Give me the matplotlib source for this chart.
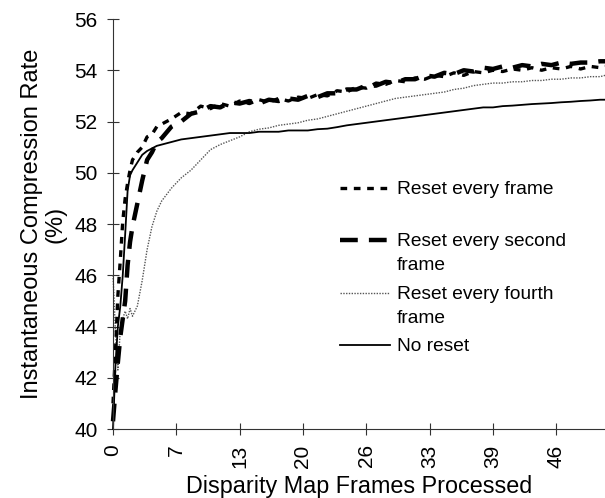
import matplotlib
matplotlib.use("Agg")
import matplotlib.pyplot as plt
from matplotlib.lines import Line2D

plt.rcParams["font.family"] = ["Liberation Sans", "DejaVu Sans"]

# frames processed (finer sampling at the start where the curves climb)
frames = [0, 0.25, 0.5, 0.75, 1, 1.25, 1.5, 1.75, 2, 2.5, 3, 3.5, 4, 4.5, 5,
          6, 7, 8, 9, 10, 11, 12, 13, 14, 15, 16, 17, 18, 19, 20,
          21, 22, 23, 24, 25, 26, 27, 28, 29, 30, 31, 32, 33, 34, 35,
          36, 37, 38, 39, 40, 41, 42, 43, 44, 45, 46, 47, 48, 49, 50, 50.5]

every_frame = [41.0, 43.0, 45.2, 46.6, 48.1, 49.0, 49.6, 50.1, 50.5, 50.8, 51.0, 51.4, 51.5, 51.8, 51.9,
               52.1, 52.35, 52.3, 52.6, 52.5, 52.7, 52.6, 52.8, 52.7, 52.85, 52.75, 52.9, 52.8, 52.95, 52.9,
               53.05, 53.0, 53.2, 53.15, 53.35, 53.3, 53.5, 53.45, 53.6, 53.55, 53.7, 53.65, 53.8, 53.75, 53.9,
               53.8, 53.95, 53.9, 54.0, 53.95, 54.05, 54.0, 54.1, 54.0, 54.1, 54.05, 54.15, 54.05, 54.15, 54.1, 54.15]

every_second = [40.3, 41.5, 42.6, 43.6, 44.3, 45.0, 46.4, 47.3, 47.9, 48.8, 49.7, 50.5, 50.8, 51.2, 51.35,
                51.8, 52.0, 52.3, 52.4, 52.6, 52.55, 52.75, 52.7, 52.8, 52.7, 52.85, 52.8, 52.9, 52.85, 53.0,
                52.95, 53.1, 53.1, 53.25, 53.25, 53.4, 53.4, 53.55, 53.5, 53.65, 53.65, 53.8, 53.75, 53.9, 53.85,
                54.0, 53.95, 54.1, 54.05, 54.15, 54.1, 54.2, 54.15, 54.25, 54.2, 54.3, 54.25, 54.3, 54.3, 54.35, 54.35]

every_fourth = [46.0, 43.8, 42.3, 43.9, 44.3, 44.6, 44.3, 44.7, 44.4, 44.8, 45.8, 47.0, 47.9, 48.5, 48.9,
                49.4, 49.8, 50.1, 50.5, 50.9, 51.1, 51.25, 51.4, 51.6, 51.7, 51.75, 51.85, 51.9, 51.95, 52.05,
                52.1, 52.2, 52.3, 52.4, 52.5, 52.6, 52.7, 52.8, 52.9, 52.95, 53.0, 53.05, 53.1, 53.15, 53.25,
                53.3, 53.4, 53.45, 53.5, 53.5, 53.55, 53.55, 53.6, 53.6, 53.65, 53.65, 53.7, 53.7, 53.75, 53.75, 53.8]

no_reset = [40.0, 42.5, 44.0, 44.8, 46.0, 47.6, 49.3, 49.9, 50.1, 50.4, 50.7, 50.85, 50.95, 51.05, 51.1,
            51.2, 51.3, 51.35, 51.4, 51.45, 51.5, 51.55, 51.55, 51.55, 51.6, 51.6, 51.6, 51.65, 51.65, 51.65,
            51.7, 51.72, 51.78, 51.85, 51.9, 51.95, 52.0, 52.05, 52.1, 52.15, 52.2, 52.25, 52.3, 52.35, 52.4,
            52.45, 52.5, 52.55, 52.55, 52.6, 52.62, 52.65, 52.68, 52.7, 52.72, 52.75, 52.77, 52.8, 52.82, 52.85, 52.85]

x_tick_pos = [0, 6.5, 13, 19.5, 26, 32.5, 39, 45.5]
x_tick_labels = ["0", "7", "13", "20", "26", "33", "39", "46"]
y_ticks = [40, 42, 44, 46, 48, 50, 52, 54, 56]

labels = ["Reset every frame", "Reset every second\nframe",
          "Reset every fourth\nframe", "No reset"]
styles = [
    dict(color="black", lw=2.4, ls=(0, (2, 2))),
    dict(color="black", lw=3.2, ls=(0, (4, 2.5))),
    dict(color="#555555", lw=1.0, ls=(0, (1, 1))),
    dict(color="black", lw=1.3, ls="-"),
]
series = [every_frame, every_second, every_fourth, no_reset]

fig = plt.figure(figsize=(6.05, 4.98), dpi=100)
ax = fig.add_axes([113 / 605, 1 - 429 / 498, 492 / 605, 410 / 498])

# draw the fourth-frame line first so the thick lines sit on top
for i in [2, 3, 1, 0]:
    ax.plot(frames, series[i], clip_on=False, **styles[i])

ax.set_xlim(0, 50.5)
ax.set_ylim(40, 56)
ax.set_xticks(x_tick_pos)
ax.set_xticklabels(x_tick_labels, rotation=90, fontsize=15)
ax.set_yticks(y_ticks)
ax.set_yticklabels([str(v) for v in y_ticks], fontsize=15)
ax.tick_params(direction="inout", length=9, width=0.8, color="#333333", pad=6.5)
for side in ["top", "right"]:
    ax.spines[side].set_visible(False)
for side in ["left", "bottom"]:
    ax.spines[side].set_color("#333333")
    ax.spines[side].set_linewidth(0.8)

ax.set_xlabel("Disparity Map Frames Processed", fontsize=16.8)
ax.xaxis.set_label_coords(0.5, -0.112)
ax.set_ylabel("Instantaneous Compression Rate\n(%)", fontsize=17, linespacing=1.1)
ax.yaxis.set_label_coords(-0.095, 0.5)

# legend laid out by hand: handle beside the first line of each label
entry_y = [0.588, 0.461, 0.332, 0.205]
for lab, st, yy in zip(labels, styles, entry_y):
    ax.add_line(Line2D([0.461, 0.563], [yy, yy], transform=ax.transAxes, **st))
    ax.text(0.577, yy + 0.018, lab, transform=ax.transAxes, fontsize=13.8,
            va="top", ha="left", linespacing=1.55)

fig.savefig("out.png", dpi=100)
